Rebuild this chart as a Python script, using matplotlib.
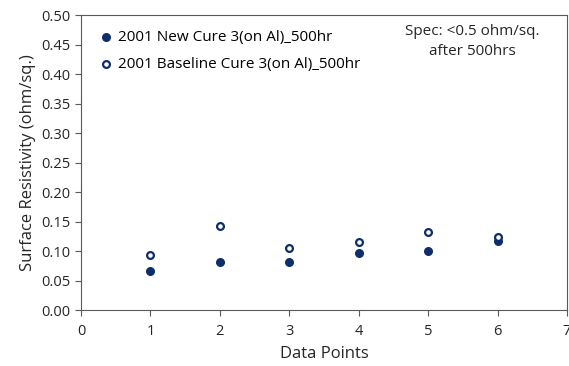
import matplotlib
matplotlib.use("Agg")
import matplotlib.pyplot as plt

plt.rcParams['font.family'] = ['Open Sans', 'DejaVu Sans']

# Данные
points = [1, 2, 3, 4, 5, 6]
new_cure = [0.066, 0.082, 0.081, 0.097, 0.100, 0.117]
baseline_cure = [0.094, 0.142, 0.105, 0.116, 0.132, 0.123]

color = '#0E2D6B'

fig = plt.figure(figsize=(5.69, 3.66), dpi=100)
ax = fig.add_axes([0.1424, 0.153, 0.854, 0.806])

ax.scatter(points, new_cure, s=30, color=color, zorder=3,
           label='2001 New Cure 3(on Al)_500hr')
ax.scatter(points, baseline_cure, s=24, facecolor='white', edgecolor=color,
           linewidth=1.6, zorder=3, label='2001 Baseline Cure 3(on Al)_500hr')

ax.set_xlim(0, 7)
ax.set_ylim(0, 0.5)
ax.set_xticks(range(0, 8))
ax.set_yticks([i * 0.05 for i in range(11)])
ax.set_yticklabels(['%.2f' % (i * 0.05) for i in range(11)])
ax.tick_params(labelsize=10.5, color='#595959', length=4, labelcolor='#262626')
ax.tick_params(axis='x', pad=6)
for sp in ax.spines.values():
    sp.set_color('#595959')

ax.set_xlabel('Data Points', fontsize=12, color='#262626', labelpad=5)
ax.set_ylabel('Surface Resistivity (ohm/sq.)', fontsize=12, color='#262626', labelpad=4)

ax.legend(loc='upper left', frameon=False, fontsize=11, handletextpad=0.1,
          borderaxespad=0.6, labelspacing=0.75, handlelength=1.3)

ax.text(0.806, 0.91, 'Spec: <0.5 ohm/sq.\nafter 500hrs', transform=ax.transAxes,
        ha='center', va='center', fontsize=11, color='#262626', linespacing=1.4)

fig.savefig('out.png', dpi=100)
